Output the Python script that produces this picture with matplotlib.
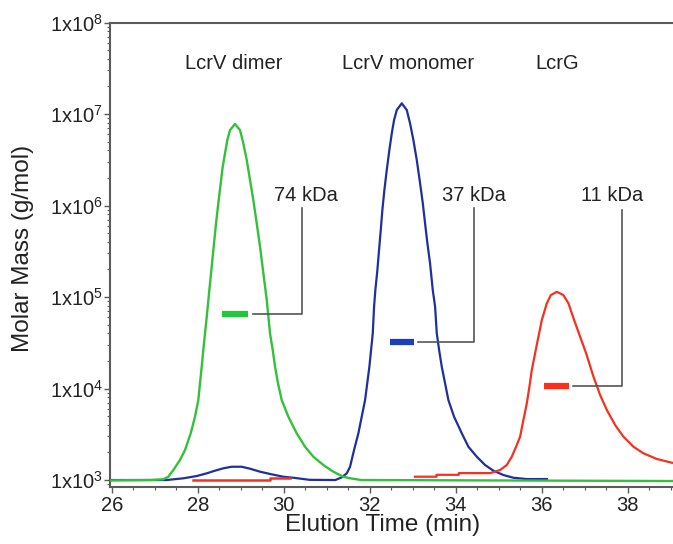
import math
import matplotlib
matplotlib.use('Agg')
import matplotlib.pyplot as plt
from matplotlib.ticker import FixedLocator, FuncFormatter, LogLocator, NullFormatter

plt.rcParams['font.family'] = ['Liberation Sans', 'DejaVu Sans']
plt.rcParams['mathtext.fontset'] = 'custom'
plt.rcParams['mathtext.rm'] = 'Liberation Sans'

# elution time (min) and molar mass (g/mol)
green_t = [25.96, 26.9, 27.2, 27.316, 27.433, 27.588, 27.705, 27.837, 27.937, 28.014, 28.053,
           28.093, 28.13, 28.17, 28.21, 28.286, 28.333, 28.379, 28.426, 28.479,
           28.535, 28.581, 28.635, 28.688, 28.751, 28.867, 28.984, 29.06, 29.14, 29.216,
           29.293, 29.372, 29.449, 29.526, 29.605, 29.681, 29.744, 29.798, 29.867,
           29.953, 30.107, 30.302, 30.495, 30.688, 30.921, 31.153, 31.386, 31.542, 31.8, 39.05]
green_m = [990, 1000, 1019, 1086, 1285, 1656, 2128, 3236, 4920, 7480, 11400,
           17300, 26400, 40100, 61000, 141000, 233000, 386000, 638000, 1057000,
           1750000, 2650000, 3720000, 5200000, 6680000, 7780000, 6680000, 4790000, 3140000, 1900000,
           1148000, 638000, 355000, 182000, 92700, 40100, 26400, 17300, 11400,
           7480, 4920, 3236, 2312, 1799, 1459, 1233, 1086, 1045, 1000, 975]

blue_t = [26.0, 27.279, 27.665, 27.977, 28.209, 28.402, 28.595, 28.791, 29.023, 29.216,
          29.449, 29.721, 29.991, 30.223, 30.6, 31.2, 31.349, 31.465, 31.542, 31.635,
          31.735, 31.891, 31.991, 32.07, 32.1, 32.13, 32.177, 32.216, 32.256, 32.293,
          32.34, 32.395, 32.456, 32.512, 32.565, 32.628, 32.744, 32.86, 32.937, 33.014,
          33.093, 33.17, 33.233, 33.286, 33.34, 33.402, 33.465, 33.519, 33.558, 33.612,
          33.674, 33.751, 33.828, 33.96, 34.14, 34.293, 34.488, 34.681, 34.874, 35.107,
          35.34, 35.651, 36.12]
blue_m = [1000, 1000, 1044, 1106, 1183, 1265, 1343, 1397, 1397, 1330,
          1233, 1154, 1086, 1059, 1005, 1000, 1070, 1183, 1397, 2128,
          3236, 7480, 17300, 40100, 78300, 119000, 197000, 327000, 540000, 893000,
          1476000, 2440000, 4050000, 6150000, 8590000, 11070000, 13100000, 11070000, 7900000, 5200000,
          3140000, 1750000, 1057000, 638000, 386000, 233000, 119000, 78300, 40100, 26400,
          17300, 11400, 7480, 4920, 3236, 2312, 1799, 1459, 1265, 1134,
          1059, 1025, 1025]

red_t = [33.05, 33.55, 33.55, 34.07, 34.07, 34.798, 35.03, 35.186, 35.302, 35.402, 35.495,
         35.572, 35.651, 35.712, 35.767, 35.844, 35.921, 36.0, 36.116, 36.209, 36.349,
         36.502, 36.619, 36.751, 36.891, 37.03, 37.2, 37.356, 37.512, 37.705, 37.898,
         38.13, 38.363, 38.674, 39.023, 39.1]
red_m = [1087, 1087, 1140, 1140, 1190, 1190, 1286, 1459, 1799, 2312, 2974,
         4530, 6886, 10500, 15900, 24300, 36800, 56100, 85300, 105000, 114000,
         105000, 85300, 56100, 36800, 24300, 13500, 8490, 5820, 3990, 2974,
         2312, 1959, 1698, 1546, 1530]

red_base_t = [27.9, 29.68, 29.68, 30.15]
red_base_m = [1000, 1000, 1044, 1044]

# peak labels and mass readouts
peak_names = ['LcrV dimer', 'LcrV monomer', 'LcrG']
peak_name_t = [28.83, 32.88, 36.35]
mass_labels = ['74 kDa', '37 kDa', '11 kDa']
mass_label_t = [30.52, 34.43, 37.63]
bar_t0 = [28.56, 32.47, 36.04]
bar_t1 = [29.18, 33.04, 36.64]
bar_m = [65200, 32200, 10740]
lead_t0 = [29.29, 33.13, 36.73]
lead_t1 = [30.43, 34.43, 37.86]
lead_top = [940000, 940000, 890000]

c_green = '#34c13a'
c_blue = '#1f2f9c'
c_red = '#f4321f'
bar_cols = ['#1ec83c', '#1c3fc0', '#ff2d1a']

fig = plt.figure(figsize=(6.73, 5.44), dpi=100)
ax = fig.add_axes([0.1634, 0.1053, 0.8366, 0.8533])

ax.plot(blue_t, blue_m, color=c_blue, lw=1.6, zorder=3)
ax.plot(red_base_t, red_base_m, color=c_red, lw=1.8, zorder=3)
ax.plot(red_t, red_m, color=c_red, lw=1.6, zorder=3)
ax.plot(green_t, green_m, color=c_green, lw=1.7, zorder=4)

for i in range(3):
    ax.plot([bar_t0[i], bar_t1[i]], [bar_m[i], bar_m[i]], color=bar_cols[i], lw=4.5,
            solid_capstyle='butt', zorder=5)
    ax.plot([lead_t0[i], lead_t1[i], lead_t1[i]], [bar_m[i], bar_m[i], lead_top[i]],
            color='#555555', lw=1.2, zorder=5)
    ax.text(mass_label_t[i], 1.3e6, mass_labels[i], ha='center', va='center',
            fontsize=14.5, color='#222222')
    ax.text(peak_name_t[i], 3.6e7, peak_names[i], ha='center', va='center',
            fontsize=14.5, color='#222222')

ax.set_yscale('log')
ax.set_xlim(25.96, 39.05)
ax.set_ylim(845, 1e8)

ax.yaxis.set_major_locator(FixedLocator([1e3, 1e4, 1e5, 1e6, 1e7, 1e8]))
ax.yaxis.set_major_formatter(FuncFormatter(lambda v, p: '1x10$^{%d}$' % round(math.log10(v))))
ax.yaxis.set_minor_locator(LogLocator(base=10, subs=range(2, 10)))
ax.yaxis.set_minor_formatter(NullFormatter())
ax.set_xticks([26, 28, 30, 32, 34, 36, 38])
ax.set_xticks([x / 2 for x in range(52, 79)], minor=True)

for side in ['left', 'bottom', 'top']:
    ax.spines[side].set_color('#5a5a5a')
    ax.spines[side].set_linewidth(1.5)
ax.spines['right'].set_visible(False)

ax.tick_params(axis='both', which='major', length=4, width=1, color='#5a5a5a',
               labelsize=14.5, labelcolor='#222222')
ax.tick_params(axis='both', which='minor', length=2.5, width=0.8, color='#5a5a5a')
ax.tick_params(axis='y', which='major', pad=1)
ax.tick_params(axis='x', which='major', pad=3)

ax.set_xlabel('Elution Time (min)', fontsize=17.5, color='#222222')
ax.set_ylabel('Molar Mass (g/mol)', fontsize=17.5, color='#222222')
ax.xaxis.set_label_coords((383 - 110) / 563, -(525 - 486.7) / 464.2)
ax.yaxis.set_label_coords(-(110 - 23) / 563, (486.7 - 248.5) / 464.2)
ax.xaxis.label.set_va('center')
ax.yaxis.label.set_va('center')

fig.savefig('out.png', dpi=100)
